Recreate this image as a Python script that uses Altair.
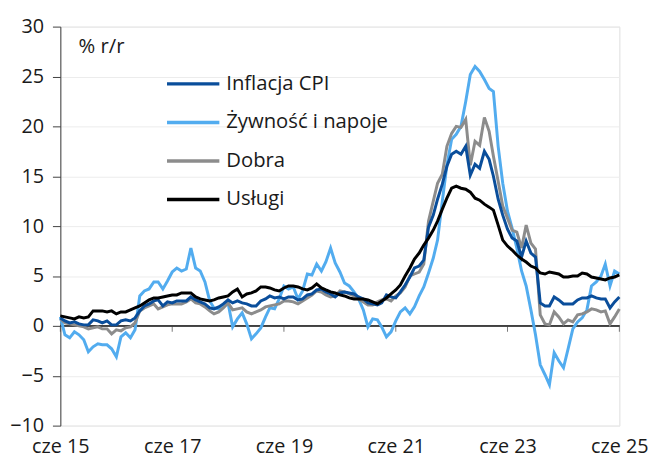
import altair as alt
import pandas as pd

months = pd.date_range("2015-06-01", "2025-06-01", freq="MS").strftime("%Y-%m-%d").tolist()

series_names = ["Inflacja CPI", "Żywność i napoje", "Dobra", "Usługi"]
series_colors = ["#0a4e9b", "#52acef", "#8c8c8c", "#000000"]

cpi = [0.8, 0.5, 0.3, 0.4, 0.2, 0.1, 0.1,
       0.6, 0.5, 0.3, 0.5, 0.1, 0.1, 0.5, 0.6, 0.5, 0.8, 1.5, 2.0,
       2.2, 2.5, 2.6, 2.0, 2.4, 2.3, 2.5, 2.5, 2.5, 2.9, 2.6, 2.4,
       2.2, 1.8, 1.7, 1.9, 2.2, 2.6, 2.3, 2.5, 2.3, 2.2, 2.0, 2.0,
       2.5, 2.7, 3.0, 2.8, 2.9, 2.7, 2.9, 2.9, 2.6, 2.7, 3.1, 3.2,
       3.6, 3.7, 3.4, 3.2, 2.9, 3.3, 3.4, 3.3, 3.2, 2.9, 2.7, 2.3,
       2.2, 2.1, 2.3, 3.1, 2.9, 2.8, 3.4, 4.1, 4.9, 5.8, 6.0, 6.6,
       9.9, 11.1, 12.7, 14.2, 16.0, 17.2, 17.5, 17.2, 18.0, 15.1, 16.2, 15.8,
       17.5, 16.7, 15.0, 12.7, 11.1, 9.7, 8.8, 8.5, 6.9, 8.5, 7.3, 6.9,
       2.3, 2.0, 2.0, 2.9, 2.6, 2.2, 2.2, 2.2, 2.6, 2.8, 2.8, 3.0,
       2.8, 2.7, 2.7, 1.8, 2.4, 2.9]

food = [0.9, -0.9, -1.2, -0.6, -0.9, -1.4, -2.6, -2.1, -1.8, -1.9, -1.9, -2.3, -3.1,
        -1.1, -0.7, -1.2, -0.4, 3.0, 3.5, 3.7, 4.4, 4.4, 3.7, 4.5, 5.4, 5.8,
        5.5, 5.7, 7.8, 5.8, 5.5, 4.4, 2.5, 1.8, 1.7, 1.9, 2.3, -0.1, 0.7, 1.3,
        0.2, -1.3, -0.8, -0.2, 0.9, 1.8, 1.7, 2.7, 4.0, 3.7,
        3.9, 2.7, 3.5, 5.2, 5.1, 6.2, 5.5, 6.4, 7.8, 6.3, 5.4, 4.3, 4.0, 3.4,
        2.7, 1.6, -0.1, 0.7, 0.6, -0.1, -1.1, -0.6, 0.5, 1.4,
        1.8, 1.2, 1.9, 3.0, 3.9, 5.3, 6.8, 8.6, 12.5, 16.1, 18.7, 19.2, 20.0,
        22.5, 25.2, 26.0, 25.5, 24.7, 23.8, 23.5, 18.0, 14.3, 11.5,
        9.8, 7.8, 5.5, 4.0, 1.6, -0.9, -3.9, -4.9, -5.9, -2.7, -3.5, -4.2,
        -2.3, -0.3, 0.4, 0.8, 1.6, 4.0, 4.4, 5.0, 6.2, 4.0, 5.5, 5.2]

goods = [0.7, 0.3, 0.2, 0.1, 0.0, -0.1, -0.3, -0.2, -0.1, -0.3, -0.3, -0.8, -0.4,
         -0.5, -0.2, -0.1, 0.3, 1.5, 1.8, 2.0, 2.2, 1.7, 1.9, 2.1, 2.2, 2.2,
         2.2, 2.4, 2.7, 2.3, 2.2, 1.9, 1.5, 1.2, 1.4, 1.8, 2.3, 1.6, 1.7, 1.8,
         1.4, 1.2, 1.4, 1.6, 1.9, 2.0, 2.1, 2.2, 2.5, 2.5,
         2.4, 2.2, 2.5, 2.8, 3.1, 3.5, 3.4, 3.1, 2.9, 3.0, 3.5, 3.4, 3.2, 3.0,
         2.7, 2.4, 2.1, 2.1, 2.4, 2.6, 2.7, 2.5, 3.0, 3.3,
         3.9, 5.0, 5.2, 5.4, 6.2, 10.5, 12.5, 14.3, 15.2, 18.0, 19.3, 20.0,
         19.9, 20.7, 16.1, 18.5, 18.1, 20.9, 19.5, 17.0, 14.5, 12.0, 10.8, 9.6,
         9.4, 7.8, 10.1, 8.3, 7.7, 1.1, 0.2, 0.1, 1.4, 0.9, 0.2, 0.6, 0.4,
         1.1, 1.2, 1.4, 1.7, 1.6, 1.4, 1.5, 0.2, 0.9, 1.7]

services = [1.0, 0.9, 0.8, 0.7, 0.9, 0.8, 0.9, 1.5, 1.5, 1.5, 1.4, 1.5, 1.2,
            1.4, 1.4, 1.6, 1.8, 2.0, 2.3, 2.6, 2.8, 2.8, 2.9, 3.0, 3.1, 3.1,
            3.3, 3.3, 3.3, 2.9, 2.7, 2.6, 2.5, 2.6, 2.8, 2.9, 3.0, 3.4, 3.7, 2.9,
            3.2, 3.3, 3.5, 3.9, 3.9, 3.8, 3.6, 3.5, 3.8, 4.0,
            4.0, 3.9, 3.7, 3.6, 3.8, 4.2, 3.8, 3.6, 3.4, 3.3, 3.1, 3.0, 2.8, 2.7,
            2.7, 2.7, 2.6, 2.4, 2.2, 2.5, 2.8, 3.2, 3.6, 4.1,
            5.0, 5.8, 6.7, 7.3, 8.1, 8.8, 9.6, 10.5, 11.7, 12.8, 13.8, 14.0,
            13.8, 13.7, 13.4, 12.8, 12.6, 12.2, 11.9, 11.6, 10.1, 8.6, 8.0, 7.6,
            7.1, 6.7, 6.4, 6.0, 5.8, 5.3, 5.2, 5.4, 5.3, 5.2, 4.9, 4.9, 5.0,
            5.0, 5.3, 5.2, 4.9, 4.8, 4.7, 4.6, 4.8, 4.9, 5.1]

tick_years = [2015, 2017, 2019, 2021, 2023, 2025]
tick_dates = ["2015-06-01", "2017-06-01", "2019-06-01", "2021-06-01", "2023-06-01", "2025-06-01"]
y_ticks = [-10, -5, 0, 5, 10, 15, 20, 25, 30]

# draw order: food, goods, CPI, services (services on top)
draw = [("Żywność i napoje", food, 0), ("Dobra", goods, 1), ("Inflacja CPI", cpi, 2), ("Usługi", services, 3)]
rows = []
for name, vals, o in draw:
    for d, v in zip(months, vals):
        rows.append({"date": d, "value": v, "series": name, "ord": o})
df = pd.DataFrame(rows)
ticks_df = pd.DataFrame({"date": tick_dates, "zero": [0] * len(tick_dates)})

FONT = "Open Sans"
TXT = "#1a1a1a"
AX = "#404040"
W, H = 566, 404

xdomain = [alt.DateTime(year=2015, month=6, date=1, utc=True),
           alt.DateTime(year=2025, month=6, date=1, utc=True)]
xvals = [alt.DateTime(year=y, month=6, date=1, utc=True) for y in tick_years]
xscale = alt.Scale(type="utc", domain=xdomain)
yscale = alt.Scale(domain=[-10, 30], nice=False)

lines = alt.Chart(df).mark_line(strokeWidth=3).encode(
    x=alt.X("date:T", scale=xscale,
            axis=alt.Axis(orient="bottom", values=xvals, domain=False, ticks=False, grid=False,
                          labelExpr="'cze ' + utcFormat(datum.value, '%y')",
                          labelFlush=False, labelOverlap=False,
                          labelFontSize=20, labelFont=FONT, labelColor=TXT,
                          labelPadding=11, title=None)),
    y=alt.Y("value:Q", scale=yscale,
            axis=alt.Axis(values=y_ticks, title="% r/r", titleAngle=0, titleAlign="left",
                          titleBaseline="alphabetic", titleX=18, titleY=26,
                          titleFont=FONT, titleFontSize=20.5, titleFontWeight="normal",
                          titleColor=TXT,
                          labelFont=FONT, labelFontSize=20, labelColor=TXT,
                          labelPadding=9, tickSize=8, tickColor=AX,
                          domainColor=AX, grid=True, gridColor="#ececec")),
    color=alt.Color("series:N", scale=alt.Scale(domain=series_names, range=series_colors),
                    legend=alt.Legend(orient="none", legendX=106, legendY=48, title=None,
                                      symbolType="stroke", symbolSize=2809, symbolStrokeWidth=3.5,
                                      clipHeight=20, rowPadding=18, labelFontSize=20.5,
                                      labelLimit=400,
                                      labelFont=FONT, labelColor=TXT, labelOffset=5,
                                      padding=0)),
    order=alt.Order("ord:Q"),
)

zero_line = alt.Chart(ticks_df).mark_rule(color=AX, strokeWidth=1).encode(
    y=alt.Y("zero:Q", scale=yscale),
)

zero_ticks = alt.Chart(ticks_df).mark_tick(color=AX, orient="vertical", size=6, thickness=1, yOffset=3).encode(
    x=alt.X("date:T", scale=xscale),
    y=alt.Y("zero:Q", scale=yscale),
)

chart = alt.layer(zero_line, zero_ticks, lines).properties(
    width=W, height=H,
    autosize=alt.AutoSizeParams(type="none"),
    padding={"left": 53, "top": 16, "right": 29, "bottom": 34},
).configure_view(stroke=None).configure(font=FONT)

chart.save("out.html", embed_options={"renderer": "svg", "actions": False})
